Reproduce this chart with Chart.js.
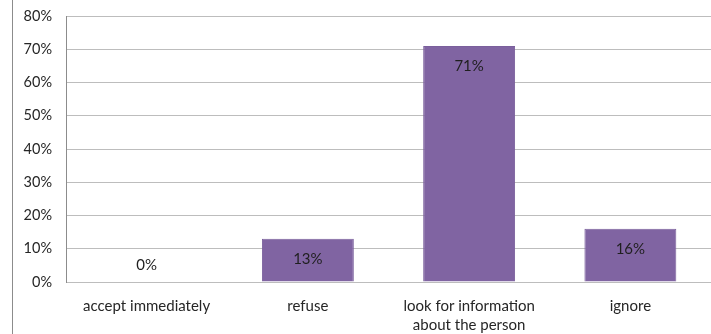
<!DOCTYPE html>
<html>
<head>
<meta charset="utf-8">
<script src="https://cdn.jsdelivr.net/npm/chart.js@4.4.0/dist/chart.umd.min.js"></script>
<style>
  html, body { margin: 0; padding: 0; background: #fff; }
  #wrap { width: 711px; height: 334px; position: relative; }
</style>
</head>
<body>
<div id="wrap"><canvas id="barChart"></canvas></div>
<script>
const categories = ['accept immediately', 'refuse', ['look for information', 'about the person'], 'ignore'];
const shares = [0, 13, 71, 16];
const yTicks = [0, 10, 20, 30, 40, 50, 60, 70, 80];

const fontFamily = 'Lato, "Open Sans", sans-serif';

// value labels near the top of each bar, zero bars get theirs just above the axis
const barLabels = {
    id: 'barLabels',
    afterDatasetsDraw(chart) {
        const ctx = chart.ctx;
        const meta = chart.getDatasetMeta(0);
        ctx.save();
        ctx.font = '15px ' + fontFamily;
        ctx.fillStyle = '#1f1f1f';
        ctx.textAlign = 'center';
        ctx.textBaseline = 'middle';
        meta.data.forEach((bar, i) => {
            const v = shares[i];
            const y = v === 0 ? bar.y - 17 : bar.y + 20;
            ctx.fillText(v + '%', bar.x, y);
        });
        ctx.restore();
    }
};

// thin frame line along the left edge
const leftFrame = {
    id: 'leftFrame',
    beforeDraw(chart) {
        const ctx = chart.ctx;
        ctx.save();
        ctx.strokeStyle = '#8c8c8c';
        ctx.lineWidth = 1;
        ctx.beginPath();
        ctx.moveTo(12.5, 0);
        ctx.lineTo(12.5, chart.height);
        ctx.stroke();
        ctx.restore();
    }
};

const ctx = document.getElementById('barChart').getContext('2d');
const myChart = new Chart(ctx, {
    type: 'bar',
    data: {
        labels: categories,
        datasets: [{
            data: shares,
            backgroundColor: '#8064A2',
            borderColor: '#7a5f9c',
            borderWidth: 1,
            categoryPercentage: 1,
            barPercentage: 0.57
        }]
    },
    options: {
        responsive: true,
        maintainAspectRatio: false,
        animation: false,
        layout: { padding: 0 },
        plugins: {
            legend: { display: false },
            tooltip: { enabled: false }
        },
        scales: {
            x: {
                grid: { display: false, drawTicks: false },
                border: { display: false },
                ticks: {
                    color: '#262626',
                    font: { family: fontFamily, size: 15, lineHeight: 1.25 },
                    padding: 15,
                    maxRotation: 0,
                    autoSkip: false
                },
                afterFit(scale) { scale.height = 52; }
            },
            y: {
                min: 0,
                max: 80,
                afterBuildTicks(scale) {
                    scale.ticks = yTicks.map(v => ({ value: v }));
                },
                grid: { color: '#bdbdbd', lineWidth: 1, drawTicks: false },
                border: { display: true, color: '#8c8c8c' },
                ticks: {
                    color: '#262626',
                    font: { family: fontFamily, size: 14.5 },
                    padding: 14,
                    callback: v => v + '%'
                },
                afterFit(scale) {
                    scale.width = 66;
                    scale.paddingTop = 16;
                }
            }
        }
    },
    plugins: [leftFrame, barLabels]
});
</script>
</body>
</html>
